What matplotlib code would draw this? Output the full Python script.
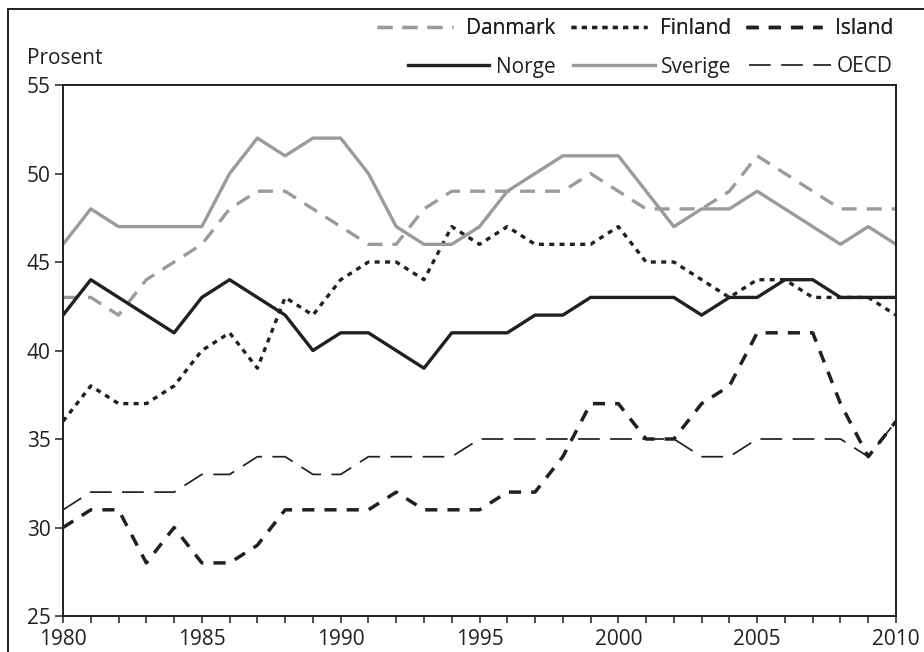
import numpy as np
import matplotlib.pyplot as plt
from matplotlib.patches import Rectangle
from matplotlib.ticker import MultipleLocator

plt.rcParams['font.family'] = ['Open Sans', 'DejaVu Sans']

aar = list(range(1980, 2011))

danmark = [43, 43, 42, 44, 45, 46, 48, 49, 49, 48, 47, 46, 46, 48, 49, 49,
           49, 49, 49, 50, 49, 48, 48, 48, 49, 51, 50, 49, 48, 48, 48]
finland = [36, 38, 37, 37, 38, 40, 41, 39, 43, 42, 44, 45, 45, 44, 47, 46,
           47, 46, 46, 46, 47, 45, 45, 44, 43, 44, 44, 43, 43, 43, 42]
island = [30, 31, 31, 28, 30, 28, 28, 29, 31, 31, 31, 31, 32, 31, 31, 31,
          32, 32, 34, 37, 37, 35, 35, 37, 38, 41, 41, 41, 37, 34, 36]
norge = [42, 44, 43, 42, 41, 43, 44, 43, 42, 40, 41, 41, 40, 39, 41, 41,
         41, 42, 42, 43, 43, 43, 43, 42, 43, 43, 44, 44, 43, 43, 43]
sverige = [46, 48, 47, 47, 47, 47, 50, 52, 51, 52, 52, 50, 47, 46, 46, 47,
           49, 50, 51, 51, 51, 49, 47, 48, 48, 49, 48, 47, 46, 47, 46]
oecd = [31, 32, 32, 32, 32, 33, 33, 34, 34, 33, 33, 34, 34, 34, 34, 35,
        35, 35, 35, 35, 35, 35, 35, 34, 34, 35, 35, 35, 35, 34, 36]

gra = '#9b9b9b'
svart = '#231f20'

fig = plt.figure(figsize=(9.24, 6.52), dpi=100)
ax = fig.add_axes([0.0682, 0.0552, 0.9015, 0.8144])

l_dk, = ax.plot(aar, danmark, color=gra, lw=2.4, dashes=(4.5, 3.0), label='Danmark')
l_fi, = ax.plot(aar, finland, color=svart, lw=2.4, dashes=(1.5, 1.6), label='Finland')
l_is, = ax.plot(aar, island, color=svart, lw=2.5, dashes=(3.5, 2.9), label='Island')
l_no, = ax.plot(aar, norge, color=svart, lw=2.4, label='Norge')
l_sv, = ax.plot(aar, sverige, color=gra, lw=2.4, label='Sverige')
l_oe, = ax.plot(aar, oecd, color=svart, lw=1.25, dashes=(12.5, 6), label='OECD')

ax.set_xlim(1980, 2010)
ax.set_ylim(25, 55)
ax.xaxis.set_major_locator(MultipleLocator(5))
ax.xaxis.set_minor_locator(MultipleLocator(1))
ax.yaxis.set_major_locator(MultipleLocator(5))

for s in ax.spines.values():
    s.set_color(svart)
    s.set_linewidth(1.4)

ax.tick_params(axis='both', which='both', direction='out', colors=svart,
               labelsize=15, width=1.1)
ax.tick_params(axis='x', which='both', length=5, pad=4)
ax.tick_params(axis='y', which='major', length=5.5, pad=3.5)

fig.text(0.029, 1 - 64 / 652, 'Prosent', fontsize=15, color=svart, va='baseline')

leg1 = fig.legend(handles=[l_dk, l_fi, l_is], loc='center right', ncol=3,
                  bbox_to_anchor=(0.9665, 1 - 29 / 652), frameon=False, fontsize=15,
                  handlelength=3.65, handletextpad=0.62, columnspacing=0.72,
                  borderaxespad=0, borderpad=0, labelcolor=svart)
leg2 = fig.legend(handles=[l_no, l_sv, l_oe], loc='center right', ncol=3,
                  bbox_to_anchor=(0.9665, 1 - 67 / 652), frameon=False, fontsize=15,
                  handlelength=3.9, handletextpad=0.32, columnspacing=0.84,
                  borderaxespad=0, borderpad=0, labelcolor=svart)
fig.add_artist(leg1)

# ytre ramme, bare topp og venstre side synes
fig.add_artist(Rectangle((8 / 924, -0.05), 1.0, 1.05 - 9 / 652, transform=fig.transFigure,
                         fill=False, edgecolor=svart, lw=1.4))

fig.savefig('out.png', dpi=100)
